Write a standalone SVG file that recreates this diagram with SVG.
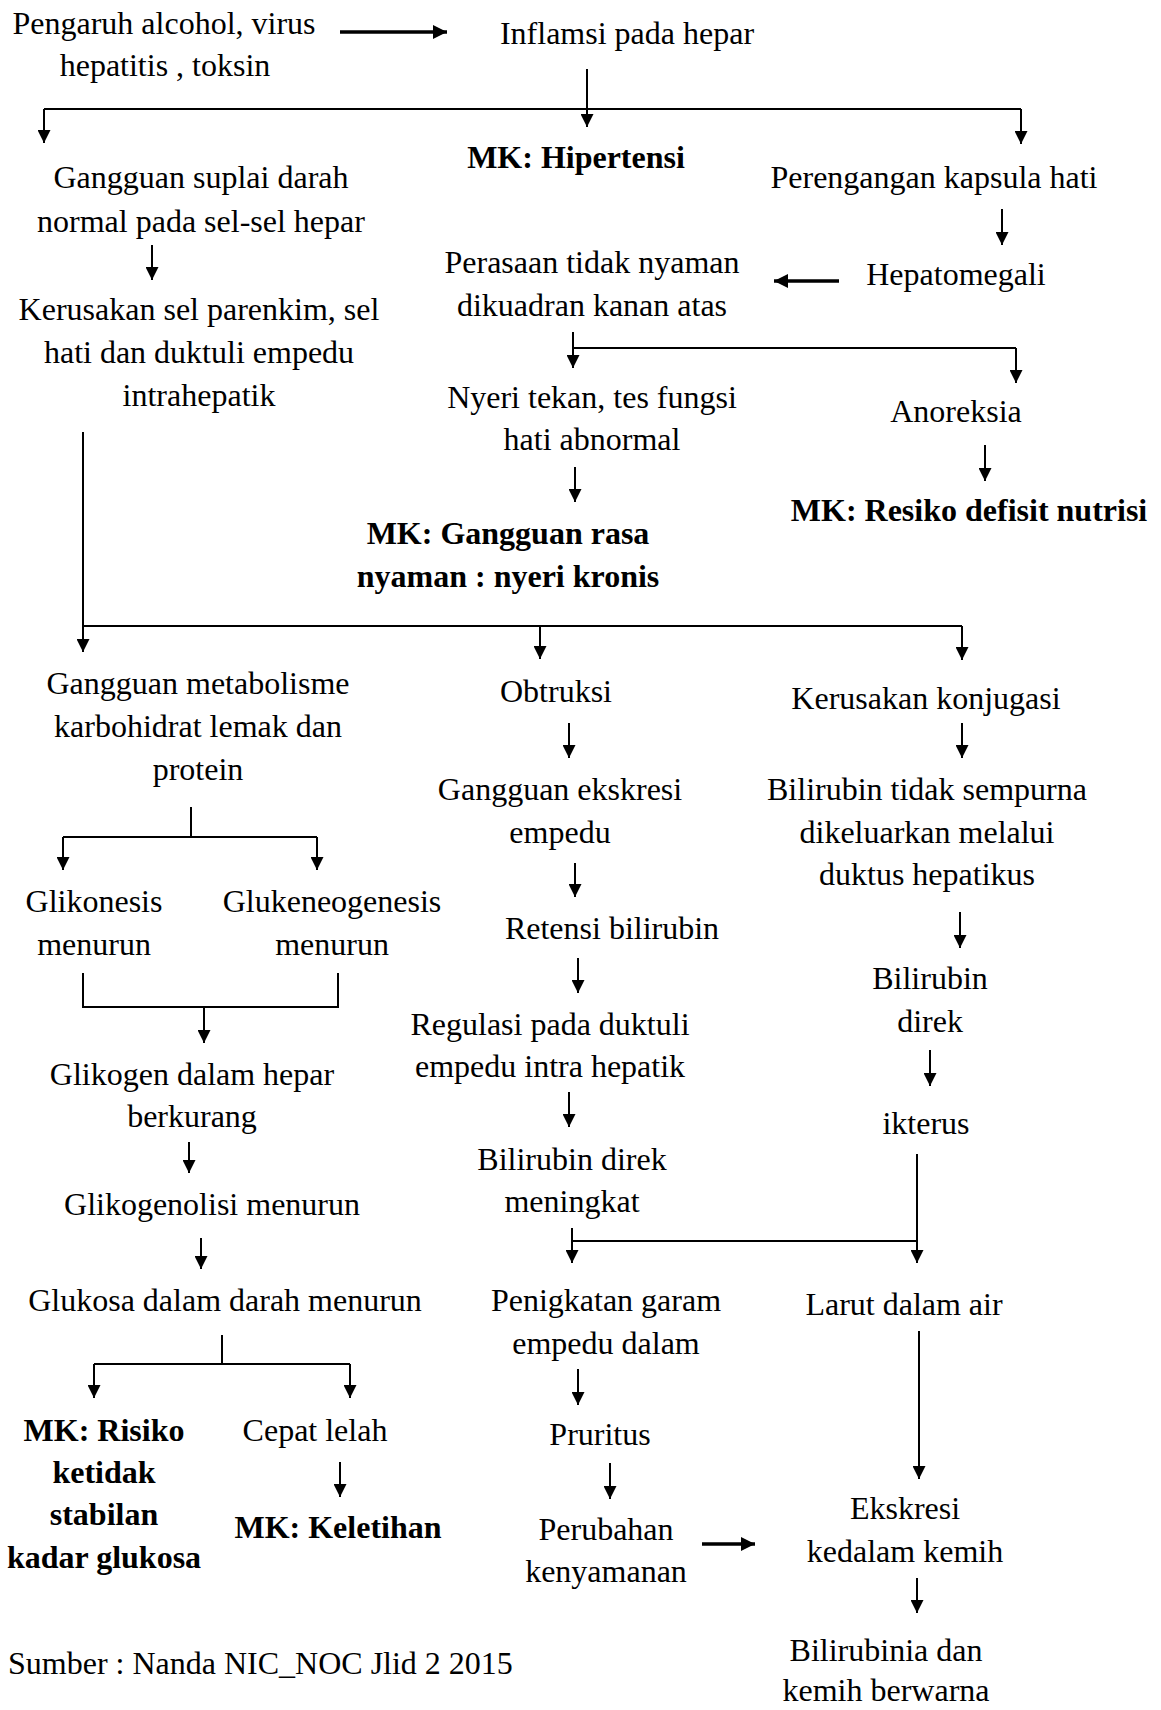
<svg xmlns="http://www.w3.org/2000/svg" width="1161" height="1710" viewBox="0 0 1161 1710">
<style>
text{font-family:"Liberation Serif","Times New Roman",serif;font-size:32px;fill:#000;text-anchor:middle}
.b{font-weight:bold}
.l{text-anchor:start}
.c{fill:none;stroke:#000;stroke-width:2}
.a{fill:none;stroke:#000;stroke-width:2;marker-end:url(#ah)}
.t{fill:none;stroke:#000;stroke-width:3.5;marker-end:url(#aht)}
</style>
<defs>
<marker id="ah" viewBox="0 0 10 10" refX="10" refY="5" markerWidth="15" markerHeight="13" markerUnits="userSpaceOnUse" orient="auto"><path d="M0,0 L10,5 L0,10 z" fill="#000"/></marker>
<marker id="aht" viewBox="0 0 10 10" refX="10" refY="5" markerWidth="17" markerHeight="14" markerUnits="userSpaceOnUse" orient="auto"><path d="M0,0 L10,5 L0,10 z" fill="#000"/></marker>
</defs>
<rect width="1161" height="1710" fill="#fff"/>
<g id="connectors">
<path class="t" d="M340,32 H447"/>
<path class="a" d="M587,69 V127"/>
<path class="c" d="M44,109 H1021"/>
<path class="a" d="M44,109 V143"/>
<path class="a" d="M1021,109 V144"/>
<path class="a" d="M152,245 V280"/>
<path class="a" d="M1002,209 V245"/>
<path class="t" d="M839,281 H774"/>
<path class="a" d="M573,332 V368"/>
<path class="c" d="M573,348 H1016"/>
<path class="a" d="M1016,348 V383"/>
<path class="a" d="M575,467 V502"/>
<path class="a" d="M985,445 V481"/>
<path class="a" d="M83,432 V652"/>
<path class="c" d="M83,626 H962"/>
<path class="a" d="M540,626 V659"/>
<path class="a" d="M962,626 V660"/>
<path class="a" d="M569,723 V758"/>
<path class="a" d="M962,723 V758"/>
<path class="c" d="M191,807 V837 M63,837 H317"/>
<path class="a" d="M63,837 V870"/>
<path class="a" d="M317,837 V870"/>
<path class="a" d="M575,863 V897"/>
<path class="a" d="M960,912 V948"/>
<path class="c" d="M83,973 V1007 H338 V973"/>
<path class="a" d="M204,1007 V1043"/>
<path class="a" d="M578,958 V993"/>
<path class="a" d="M930,1050 V1086"/>
<path class="a" d="M569,1092 V1127"/>
<path class="a" d="M189,1142 V1173"/>
<path class="a" d="M917,1154 V1263"/>
<path class="c" d="M572,1241 H917"/>
<path class="a" d="M572,1228 V1263"/>
<path class="a" d="M201,1238 V1269"/>
<path class="c" d="M222,1335 V1364 M94,1364 H350"/>
<path class="a" d="M94,1364 V1398"/>
<path class="a" d="M350,1364 V1398"/>
<path class="a" d="M919,1331 V1479"/>
<path class="a" d="M578,1369 V1405"/>
<path class="a" d="M340,1462 V1497"/>
<path class="a" d="M610,1463 V1499"/>
<path class="t" d="M702,1544 H755"/>
<path class="a" d="M917,1578 V1613"/>
</g>
<g id="n1"><text x="164" y="34">Pengaruh alcohol, virus</text><text x="165" y="76">hepatitis , toksin</text></g>
<g id="n2"><text x="627" y="44">Inflamsi pada hepar</text></g>
<g id="n3"><text class="b" x="576" y="168">MK: Hipertensi</text></g>
<g id="n4"><text x="201" y="188">Gangguan suplai darah</text><text x="201" y="232">normal pada sel-sel hepar</text></g>
<g id="n5"><text x="934" y="188">Perengangan kapsula hati</text></g>
<g id="n6"><text x="956" y="285">Hepatomegali</text></g>
<g id="n7"><text x="592" y="273">Perasaan tidak nyaman</text><text x="592" y="316">dikuadran kanan atas</text></g>
<g id="n8"><text x="199" y="320">Kerusakan sel parenkim, sel</text><text x="199" y="363">hati dan duktuli empedu</text><text x="199" y="406">intrahepatik</text></g>
<g id="n9"><text x="592" y="408">Nyeri tekan, tes fungsi</text><text x="592" y="450">hati abnormal</text></g>
<g id="n10"><text x="956" y="422">Anoreksia</text></g>
<g id="n11"><text class="b" x="969" y="521">MK: Resiko defisit nutrisi</text></g>
<g id="n12"><text class="b" x="508" y="544">MK: Gangguan rasa</text><text class="b" x="508" y="587">nyaman : nyeri kronis</text></g>
<g id="n13"><text x="198" y="694">Gangguan metabolisme</text><text x="198" y="737">karbohidrat lemak dan</text><text x="198" y="780">protein</text></g>
<g id="n14"><text x="556" y="702">Obtruksi</text></g>
<g id="n15"><text x="926" y="709">Kerusakan konjugasi</text></g>
<g id="n16"><text x="560" y="800">Gangguan ekskresi</text><text x="560" y="843">empedu</text></g>
<g id="n17"><text x="927" y="800">Bilirubin tidak sempurna</text><text x="927" y="843">dikeluarkan melalui</text><text x="927" y="885">duktus hepatikus</text></g>
<g id="n18"><text x="94" y="912">Glikonesis</text><text x="94" y="955">menurun</text></g>
<g id="n19"><text x="332" y="912">Glukeneogenesis</text><text x="332" y="955">menurun</text></g>
<g id="n20"><text x="612" y="939">Retensi bilirubin</text></g>
<g id="n21"><text x="930" y="989">Bilirubin</text><text x="930" y="1032">direk</text></g>
<g id="n22"><text x="550" y="1035">Regulasi pada duktuli</text><text x="550" y="1077">empedu intra hepatik</text></g>
<g id="n23"><text x="192" y="1085">Glikogen dalam hepar</text><text x="192" y="1127">berkurang</text></g>
<g id="n24"><text x="926" y="1134">ikterus</text></g>
<g id="n25"><text x="572" y="1170">Bilirubin direk</text><text x="572" y="1212">meningkat</text></g>
<g id="n26"><text x="212" y="1215">Glikogenolisi menurun</text></g>
<g id="n27"><text x="225" y="1311">Glukosa dalam darah menurun</text></g>
<g id="n28"><text x="606" y="1311">Penigkatan garam</text><text x="606" y="1354">empedu dalam</text></g>
<g id="n29"><text x="904" y="1315">Larut dalam air</text></g>
<g id="n30"><text class="b" x="104" y="1441">MK: Risiko</text><text class="b" x="104" y="1483">ketidak</text><text class="b" x="104" y="1525">stabilan</text><text class="b" x="104" y="1568">kadar glukosa</text></g>
<g id="n31"><text x="315" y="1441">Cepat lelah</text></g>
<g id="n32"><text x="600" y="1445">Pruritus</text></g>
<g id="n33"><text class="b" x="338" y="1538">MK: Keletihan</text></g>
<g id="n34"><text x="606" y="1540">Perubahan</text><text x="606" y="1582">kenyamanan</text></g>
<g id="n35"><text x="905" y="1519">Ekskresi</text><text x="905" y="1562">kedalam kemih</text></g>
<g id="n36"><text x="886" y="1661">Bilirubinia dan</text><text x="886" y="1701">kemih berwarna</text></g>
<g id="n37"><text class="l" x="8" y="1674">Sumber : Nanda NIC_NOC Jlid 2 2015</text></g>
</svg>
